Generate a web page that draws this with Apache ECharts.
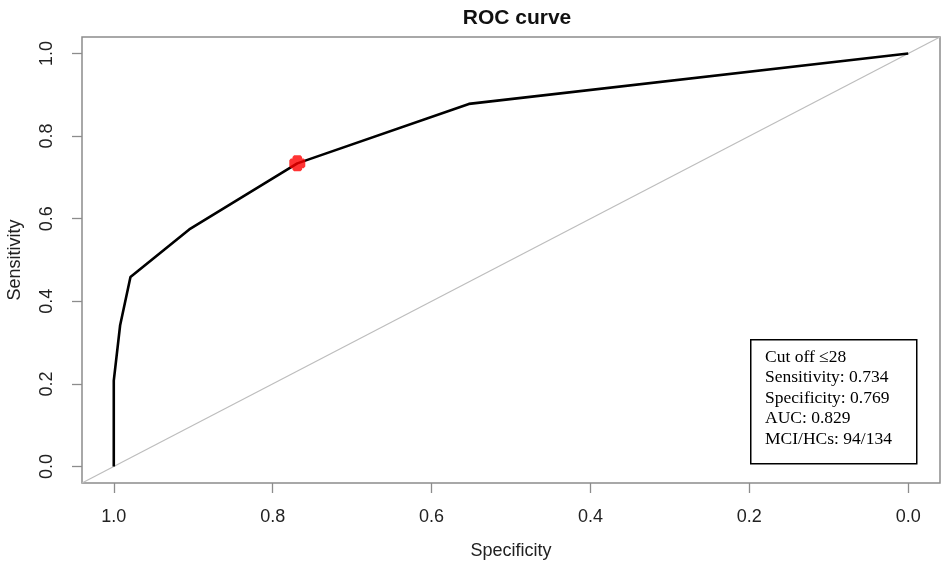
<!DOCTYPE html>
<html><head><meta charset="utf-8">
<script src="https://cdn.jsdelivr.net/npm/echarts@6/dist/echarts.min.js"></script>
<style>html,body{margin:0;padding:0;background:#fff}#c{width:950px;height:569px}</style>
</head><body><div id="c"></div>
<script>
// ROC curve points (specificity, sensitivity)
var specificity = [1.0, 1.0, 0.992, 0.979, 0.905, 0.769, 0.553, 0.0];
var sensitivity = [0.0, 0.208, 0.342, 0.459, 0.574, 0.734, 0.878, 1.0];
// chance diagonal spanning the plot region
var diagSpec = [1.04, -0.04];
var diagSens = [-0.04, 1.04];
// best cut-off point
var cutSpec = [0.769];
var cutSens = [0.734];
var tickValues = [0, 0.2, 0.4, 0.6, 0.8, 1.0];
var infoLines = ['Cut off \u226428', 'Sensitivity: 0.734', 'Specificity: 0.769', 'AUC: 0.829', 'MCI/HCs: 94/134'];

function pairs(xs, ys){ return xs.map(function(x,i){ return [x, ys[i]]; }); }

var chart = echarts.init(document.getElementById('c'), null, {renderer:'canvas'});
var fontSans = 'Liberation Sans, Arial, sans-serif';
var axisCommon = {
  type: 'value', min: -0.04, max: 1.04,
  splitLine: {show:false},
  axisLine: {show:false, onZero:false},
  axisTick: {show:true, customValues: tickValues, length: 10, lineStyle:{color:'#8c8c8c', width:1.3}},
  axisLabel: {customValues: tickValues, color:'#222', fontSize:18, fontFamily: fontSans,
    formatter: function(v){ return v.toFixed(1); }},
  nameLocation: 'middle',
  nameTextStyle: {color:'#222', fontSize:18, fontFamily: fontSans}
};
var option = {
  animation: false,
  title: {text:'ROC curve', left: 512, textAlign:'center', top: 3,
    textStyle:{fontSize:21, fontWeight:'bold', color:'#111', fontFamily: fontSans}},
  grid: {left:82, right:10, top:37, bottom:86, show:true, borderColor:'#8c8c8c', borderWidth:1.5,
    backgroundColor:'#fff', containLabel:false, outerBoundsMode:'none'},
  xAxis: Object.assign({}, axisCommon, {inverse:true, name:'Specificity', nameGap:59,
    axisLabel: Object.assign({}, axisCommon.axisLabel, {margin:25})}),
  yAxis: Object.assign({}, axisCommon, {name:'Sensitivity', nameGap:58,
    axisLabel: Object.assign({}, axisCommon.axisLabel, {rotate:90, margin:26})}),
  series: [
    {type:'line', data: pairs(diagSpec, diagSens), symbol:'none', silent:true,
      lineStyle:{color:'#bdbdbd', width:1.2}, z:1},
    {type:'line', data: pairs(specificity, sensitivity), symbol:'none',
      lineStyle:{color:'#000', width:2.6}, z:2},
    {type:'scatter', data: pairs(cutSpec, cutSens),
      symbol:'path://M3,0 H7 L8,1 V2 H9 L10,3 V7 L9,8 H8 V9 L7,10 H3 L2,9 V8 H1 L0,7 V3 L1,2 H2 V1 Z',
      symbolSize:16, itemStyle:{color:'#ff0000'}, z:3}
  ],
  graphic: [
    {type:'rect', left:750, top:339, shape:{width:166, height:124},
      style:{fill:'#fff', stroke:'#000', lineWidth:1.5}, z:10},
    {type:'text', left:765, top:347, z:11,
      style:{text: infoLines.join('\n'), fill:'#000', font:'17.5px "Liberation Serif", "Times New Roman", serif', lineHeight:20.5}}
  ]
};
chart.setOption(option);
</script></body></html>
